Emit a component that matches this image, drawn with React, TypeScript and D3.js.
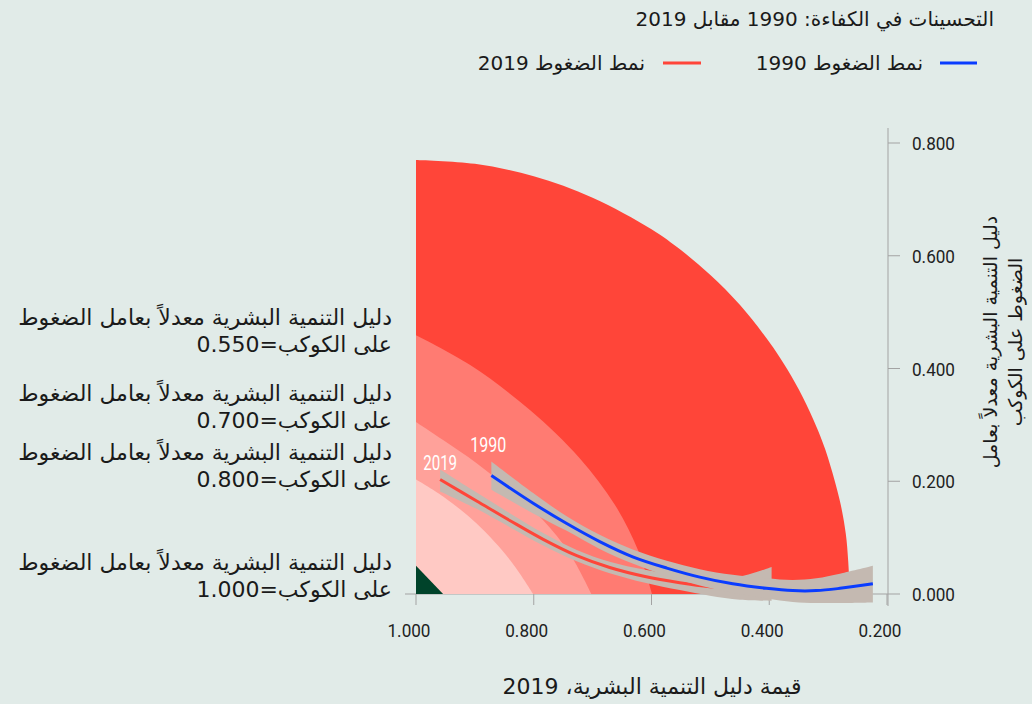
import React from 'react';
import * as d3 from 'd3';

const W = 1032;
const H = 704;

// tick labels
const xTicks = [1.0, 0.8, 0.6, 0.4, 0.2];
const yTicks = [0, 0.2, 0.4, 0.6, 0.8];

// contour edges of the shaded zones, [hdi, adjusted value]
const redEdge = [[1.0, 0.77], [0.9, 0.763], [0.8, 0.741], [0.7, 0.703], [0.6, 0.647], [0.55, 0.61], [0.5, 0.566], [0.45, 0.513], [0.4, 0.447], [0.375, 0.408], [0.35, 0.363], [0.325, 0.309], [0.31, 0.271], [0.3, 0.241], [0.28, 0.165], [0.27, 0.107], [0.266, 0.06], [0.263, 0]];
const salmonEdge = [[1.0, 0.459], [0.908, 0.406], [0.806, 0.326], [0.722, 0.241], [0.662, 0.158], [0.623, 0.078], [0.599, 0]];
const pinkEdge = [[1.0, 0.305], [0.954, 0.273], [0.897, 0.232], [0.84, 0.184], [0.784, 0.131], [0.739, 0.072], [0.702, 0]];
const paleEdge = [[1.0, 0.203], [0.954, 0.173], [0.897, 0.125], [0.84, 0.06], [0.801, 0]];
const greenEdge = [[1.0, 0.05], [0.954, 0]];

const zoneColors = ['#ff4539', '#ff7b72', '#ffa19a', '#ffc9c4', '#00432a'];
const zoneLabels = ['0.550', '0.700', '0.800', '1.000'];

// pressure curves
const hdi1990 = [0.872, 0.801, 0.744, 0.688, 0.632, 0.574, 0.518, 0.462, 0.405, 0.36, 0.32, 0.28, 0.224];
const mid1990 = [0.21, 0.161, 0.125, 0.093, 0.066, 0.046, 0.03, 0.018, 0.01, 0.006, 0.006, 0.01, 0.018];
const lo1990 = [0.185, 0.143, 0.112, 0.08, 0.054, 0.032, 0.015, 0.002, -0.008, -0.014, -0.016, -0.016, -0.015];
const hi1990 = [0.235, 0.179, 0.138, 0.105, 0.079, 0.059, 0.044, 0.034, 0.028, 0.025, 0.028, 0.036, 0.05];

const hdi2019 = [0.959, 0.897, 0.84, 0.784, 0.727, 0.671, 0.611, 0.552, 0.501, 0.45, 0.396];
const mid2019 = [0.203, 0.165, 0.13, 0.097, 0.068, 0.047, 0.031, 0.02, 0.013, 0.01, 0.014];
const lo2019 = [0.182, 0.151, 0.118, 0.086, 0.058, 0.037, 0.02, 0.007, -0.003, -0.01, -0.012];
const hi2019 = [0.221, 0.18, 0.143, 0.108, 0.078, 0.057, 0.043, 0.034, 0.029, 0.031, 0.048];

const arFont = '"DejaVu Sans", "Noto Sans", sans-serif';
const numFont = 'Roboto, "Liberation Sans", sans-serif';

const App = () => {
  const x = d3.scaleLinear().domain([1, 0.2]).range([416, 887]);
  const y = d3.scaleLinear().domain([0, 0.8]).range([594, 143]);

  const edgeLine = d3.line<number[]>()
    .x(d => x(d[0]))
    .y(d => y(d[1]))
    .curve(d3.curveCatmullRom.alpha(0.5));

  const zonePath = (edge: number[][]) =>
    edgeLine(edge) + `L${x(1)},${y(0)}Z`;

  const zones = [redEdge, salmonEdge, pinkEdge, paleEdge];

  const band = (hdi: number[], lo: number[], hi: number[]) =>
    d3.area<number>()
      .x(i => x(hdi[i]))
      .y0(i => y(lo[i]))
      .y1(i => y(hi[i]))
      .curve(d3.curveCatmullRom.alpha(0.5))(d3.range(hdi.length));

  const curve = (hdi: number[], v: number[]) =>
    d3.line<number>()
      .x(i => x(hdi[i]))
      .y(i => y(v[i]))
      .curve(d3.curveCatmullRom.alpha(0.5))(d3.range(hdi.length));

  const greenPath = `M${x(greenEdge[0][0])},${y(greenEdge[0][1])}L${x(greenEdge[1][0])},${y(greenEdge[1][1])}L${x(1)},${y(0)}Z`;

  const labelY = [[325, 352], [401, 428], [460, 487], [570, 597]];
  const axisColor = '#a3a3a3';

  return (
    <div style={{ position: 'fixed', left: 0, top: 0, width: W, height: H, background: '#e1ebe8' }}>
      <svg width={W} height={H}>
        {/* title */}
        <text x={994} y={26} direction="rtl" textAnchor="start" fontFamily={arFont} fontSize={20} fill="#1a1a1a">
          التحسينات في الكفاءة: 1990 مقابل 2019
        </text>

        {/* legend */}
        <line x1={940} x2={977} y1={63} y2={63} stroke="#0a3cff" strokeWidth={3} />
        <text x={923} y={70} direction="rtl" textAnchor="start" fontFamily={arFont} fontSize={20} fill="#1a1a1a">
          نمط الضغوط 1990
        </text>
        <line x1={663} x2={701} y1={63} y2={63} stroke="#ff4539" strokeWidth={3} />
        <text x={645} y={70} direction="rtl" textAnchor="start" fontFamily={arFont} fontSize={20} fill="#1a1a1a">
          نمط الضغوط 2019
        </text>

        {/* axes */}
        <line x1={405} x2={888} y1={y(0)} y2={y(0)} stroke={axisColor} />
        <line x1={888} x2={888} y1={128} y2={606} stroke={axisColor} />
        {xTicks.map(t => (
          <g key={t}>
            <line x1={x(t)} x2={x(t)} y1={y(0)} y2={y(0) + 11} stroke={axisColor} />
            <text x={x(t) - 7} y={637} textAnchor="middle" fontFamily={numFont} fontSize={19}
              textLength={43} lengthAdjust="spacingAndGlyphs" fill="#222">
              {t.toFixed(3)}
            </text>
          </g>
        ))}
        {yTicks.map(t => (
          <g key={t}>
            <line x1={888} x2={900} y1={y(t)} y2={y(t)} stroke={axisColor} />
            <text x={912} y={y(t) + 7} fontFamily={numFont} fontSize={19}
              textLength={43} lengthAdjust="spacingAndGlyphs" fill="#222">
              {t.toFixed(3)}
            </text>
          </g>
        ))}

        {/* zones */}
        {zones.map((e, i) => (
          <path key={i} d={zonePath(e)} fill={zoneColors[i]} />
        ))}
        <path d={greenPath} fill={zoneColors[4]} />

        {/* 2019 */}
        <path d={band(hdi2019, lo2019, hi2019) || ''} fill="#c4b9b1" />
        <path d={curve(hdi2019, mid2019) || ''} fill="none" stroke="#ff4539" strokeWidth={3} />
        {/* 1990 */}
        <path d={band(hdi1990, lo1990, hi1990) || ''} fill="#c4b9b1" />
        <path d={curve(hdi1990, mid1990) || ''} fill="none" stroke="#0a3cff" strokeWidth={3} />

        <text x={x(hdi2019[0])} y={470} textAnchor="middle" fontFamily={numFont} fontSize={20}
          textLength={34} lengthAdjust="spacingAndGlyphs" fill="#fff">2019</text>
        <text x={x(hdi1990[0]) - 3} y={452} textAnchor="middle" fontFamily={numFont} fontSize={20}
          textLength={36} lengthAdjust="spacingAndGlyphs" fill="#fff">1990</text>

        {/* zone labels */}
        {zoneLabels.map((v, i) => (
          <text key={v} direction="rtl" textAnchor="start" fontFamily={arFont} fontSize={22} fill="#1a1a1a">
            <tspan x={392} y={labelY[i][0]}>دليل التنمية البشرية معدلاً بعامل الضغوط</tspan>
            <tspan x={392} y={labelY[i][1]}>{`على الكوكب=${v}`}</tspan>
          </text>
        ))}

        {/* axis titles */}
        <text x={652} y={694} direction="rtl" textAnchor="middle" fontFamily={arFont} fontSize={22} fill="#1a1a1a">
          قيمة دليل التنمية البشرية، 2019
        </text>
        <text transform="translate(997,342) rotate(-90)" direction="rtl" textAnchor="middle" fontFamily={arFont} fontSize={19} fill="#1a1a1a">
          <tspan x={0} y={0}>دليل التنمية البشرية معدلاً بعامل</tspan>
          <tspan x={0} y={25}>الضغوط على الكوكب</tspan>
        </text>
      </svg>
    </div>
  );
};

export default App;
